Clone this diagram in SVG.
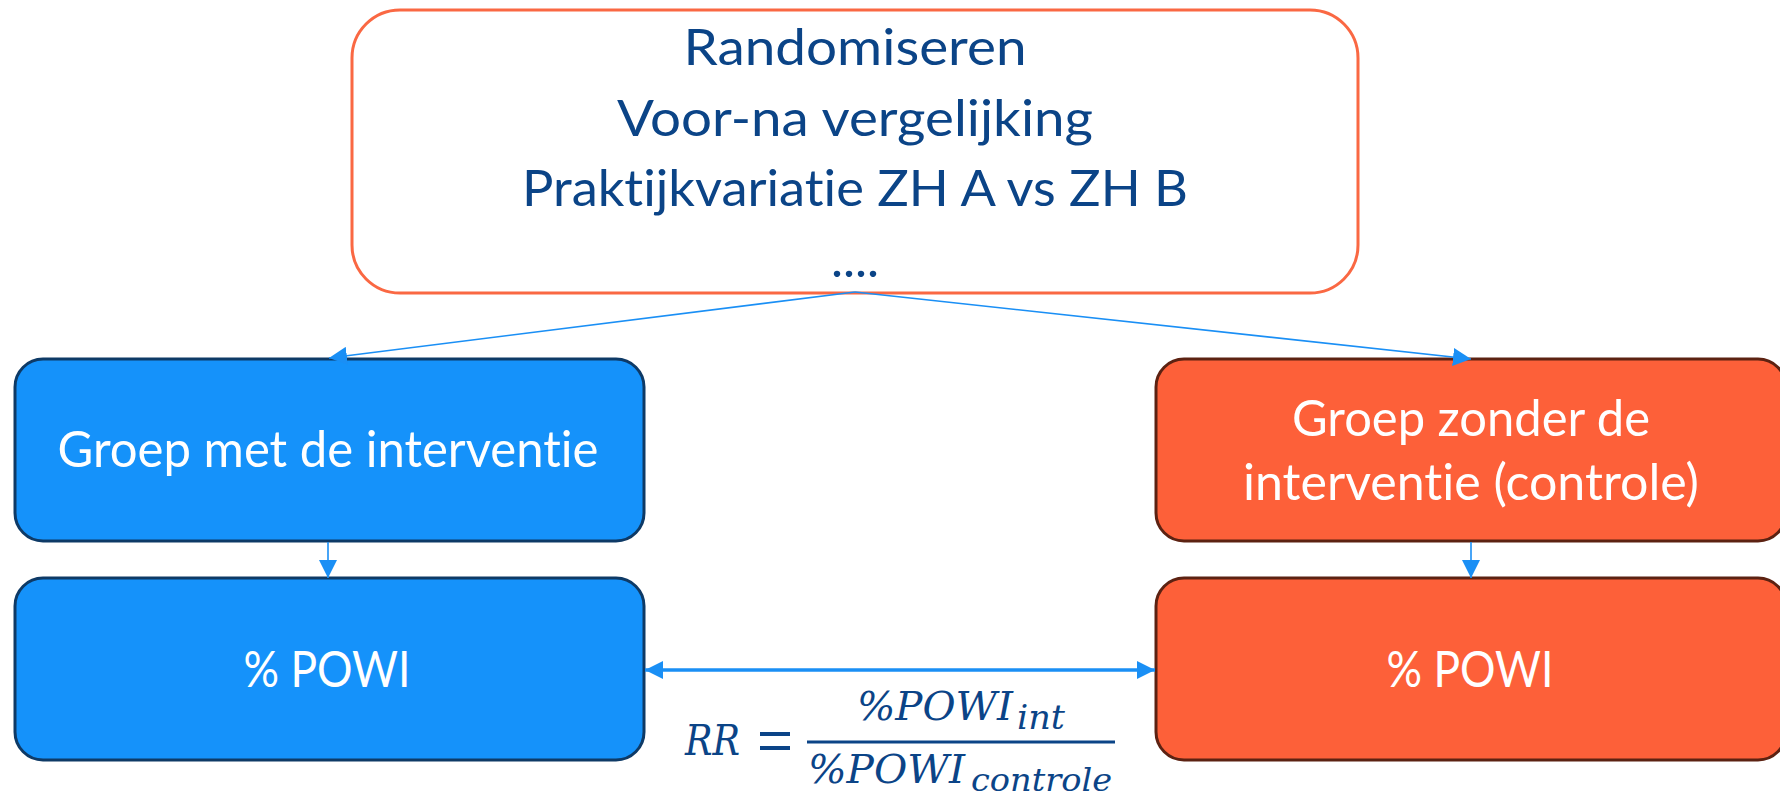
<svg xmlns="http://www.w3.org/2000/svg" width="1780" height="798" viewBox="0 0 1780 798">
  <style>
    .lbl { font-family: Lato, "Open Sans", "Liberation Sans", sans-serif; font-size: 51px; text-anchor: middle; font-variant-ligatures: none; font-feature-settings: "liga" 0, "clig" 0; }
    .dark { fill: #0b4487; }
    .white { fill: #ffffff; }
    .blue { fill: #1592fa; stroke: #0e3a66; stroke-width: 3; }
    .orange { fill: #fd6039; stroke: #5c2212; stroke-width: 3; }
    .conn { fill: none; stroke: #1a8ff5; stroke-width: 1.6; }
    .conn.wide { stroke-width: 3.4; }
    .math { font-family: "DejaVu Serif", "Liberation Serif", serif; font-style: italic; fill: #0b4487; }
  </style>
  <defs>
    <marker id="arrow" viewBox="0 0 18 18" refX="18" refY="9" markerWidth="18" markerHeight="18" markerUnits="userSpaceOnUse" orient="auto-start-reverse">
      <path d="M0,0 L18,9 L0,18 z" fill="#1a8ff5"/>
    </marker>
  </defs>

  <!-- method box -->
  <g id="methods">
    <rect x="352" y="10" width="1006" height="283" rx="48" ry="48" fill="#ffffff" stroke="#fa6843" stroke-width="3"/>
    <text class="lbl dark" x="855" y="65" textLength="343" lengthAdjust="spacingAndGlyphs">Randomiseren</text>
    <text class="lbl dark" x="855" y="136" textLength="476" lengthAdjust="spacingAndGlyphs">Voor-na vergelijking</text>
    <text class="lbl dark" x="855" y="206" textLength="666" lengthAdjust="spacingAndGlyphs">Praktijkvariatie ZH A vs ZH B</text>
    <text class="lbl dark" x="855" y="277">....</text>
  </g>

  <!-- intervention group -->
  <g id="group-int">
    <rect class="blue" x="15" y="359" width="629" height="182" rx="28" ry="28"/>
    <text class="lbl white" x="328" y="467" textLength="541" lengthAdjust="spacingAndGlyphs">Groep met de interventie</text>
  </g>
  <g id="powi-int">
    <rect class="blue" x="15" y="578" width="629" height="182" rx="28" ry="28"/>
    <text class="lbl white" x="327" y="687" textLength="167" lengthAdjust="spacingAndGlyphs">% POWI</text>
  </g>

  <!-- control group -->
  <g id="group-ctrl">
    <rect class="orange" x="1156" y="359" width="630" height="182" rx="28" ry="28"/>
    <text class="lbl white" x="1471" y="436" textLength="358" lengthAdjust="spacingAndGlyphs">Groep zonder de</text>
    <text class="lbl white" x="1471" y="500" textLength="456" lengthAdjust="spacingAndGlyphs">interventie (controle)</text>
  </g>
  <g id="powi-ctrl">
    <rect class="orange" x="1156" y="578" width="630" height="182" rx="28" ry="28"/>
    <text class="lbl white" x="1470" y="687" textLength="167" lengthAdjust="spacingAndGlyphs">% POWI</text>
  </g>

  <!-- connectors -->
  <g id="connectors">
    <line class="conn" x1="855" y1="292" x2="329" y2="358" marker-end="url(#arrow)"/>
    <line class="conn" x1="855" y1="292" x2="1471" y2="359" marker-end="url(#arrow)"/>
    <line class="conn" x1="328" y1="542" x2="328" y2="578" marker-end="url(#arrow)"/>
    <line class="conn" x1="1471" y1="542" x2="1471" y2="578" marker-end="url(#arrow)"/>
    <line class="conn wide" x1="645" y1="670" x2="1155" y2="670" marker-start="url(#arrow)" marker-end="url(#arrow)"/>
  </g>

  <!-- relative risk formula -->
  <g id="formula">
    <text class="math" x="685" y="755" font-size="43" textLength="55" lengthAdjust="spacingAndGlyphs">RR</text>
    <rect x="760" y="732" width="30" height="4" fill="#0b4487"/>
    <rect x="760" y="746" width="30" height="4" fill="#0b4487"/>
    <line x1="807" y1="742" x2="1115" y2="742" stroke="#0b4487" stroke-width="3"/>
    <text class="math" x="857" y="720" font-size="40" textLength="156" lengthAdjust="spacingAndGlyphs">%POWI</text>
    <text class="math" x="1017" y="729" font-size="33" textLength="48" lengthAdjust="spacingAndGlyphs">int</text>
    <text class="math" x="808" y="783" font-size="40" textLength="157" lengthAdjust="spacingAndGlyphs">%POWI</text>
    <text class="math" x="971" y="791" font-size="32" textLength="141" lengthAdjust="spacingAndGlyphs">controle</text>
  </g>
</svg>
